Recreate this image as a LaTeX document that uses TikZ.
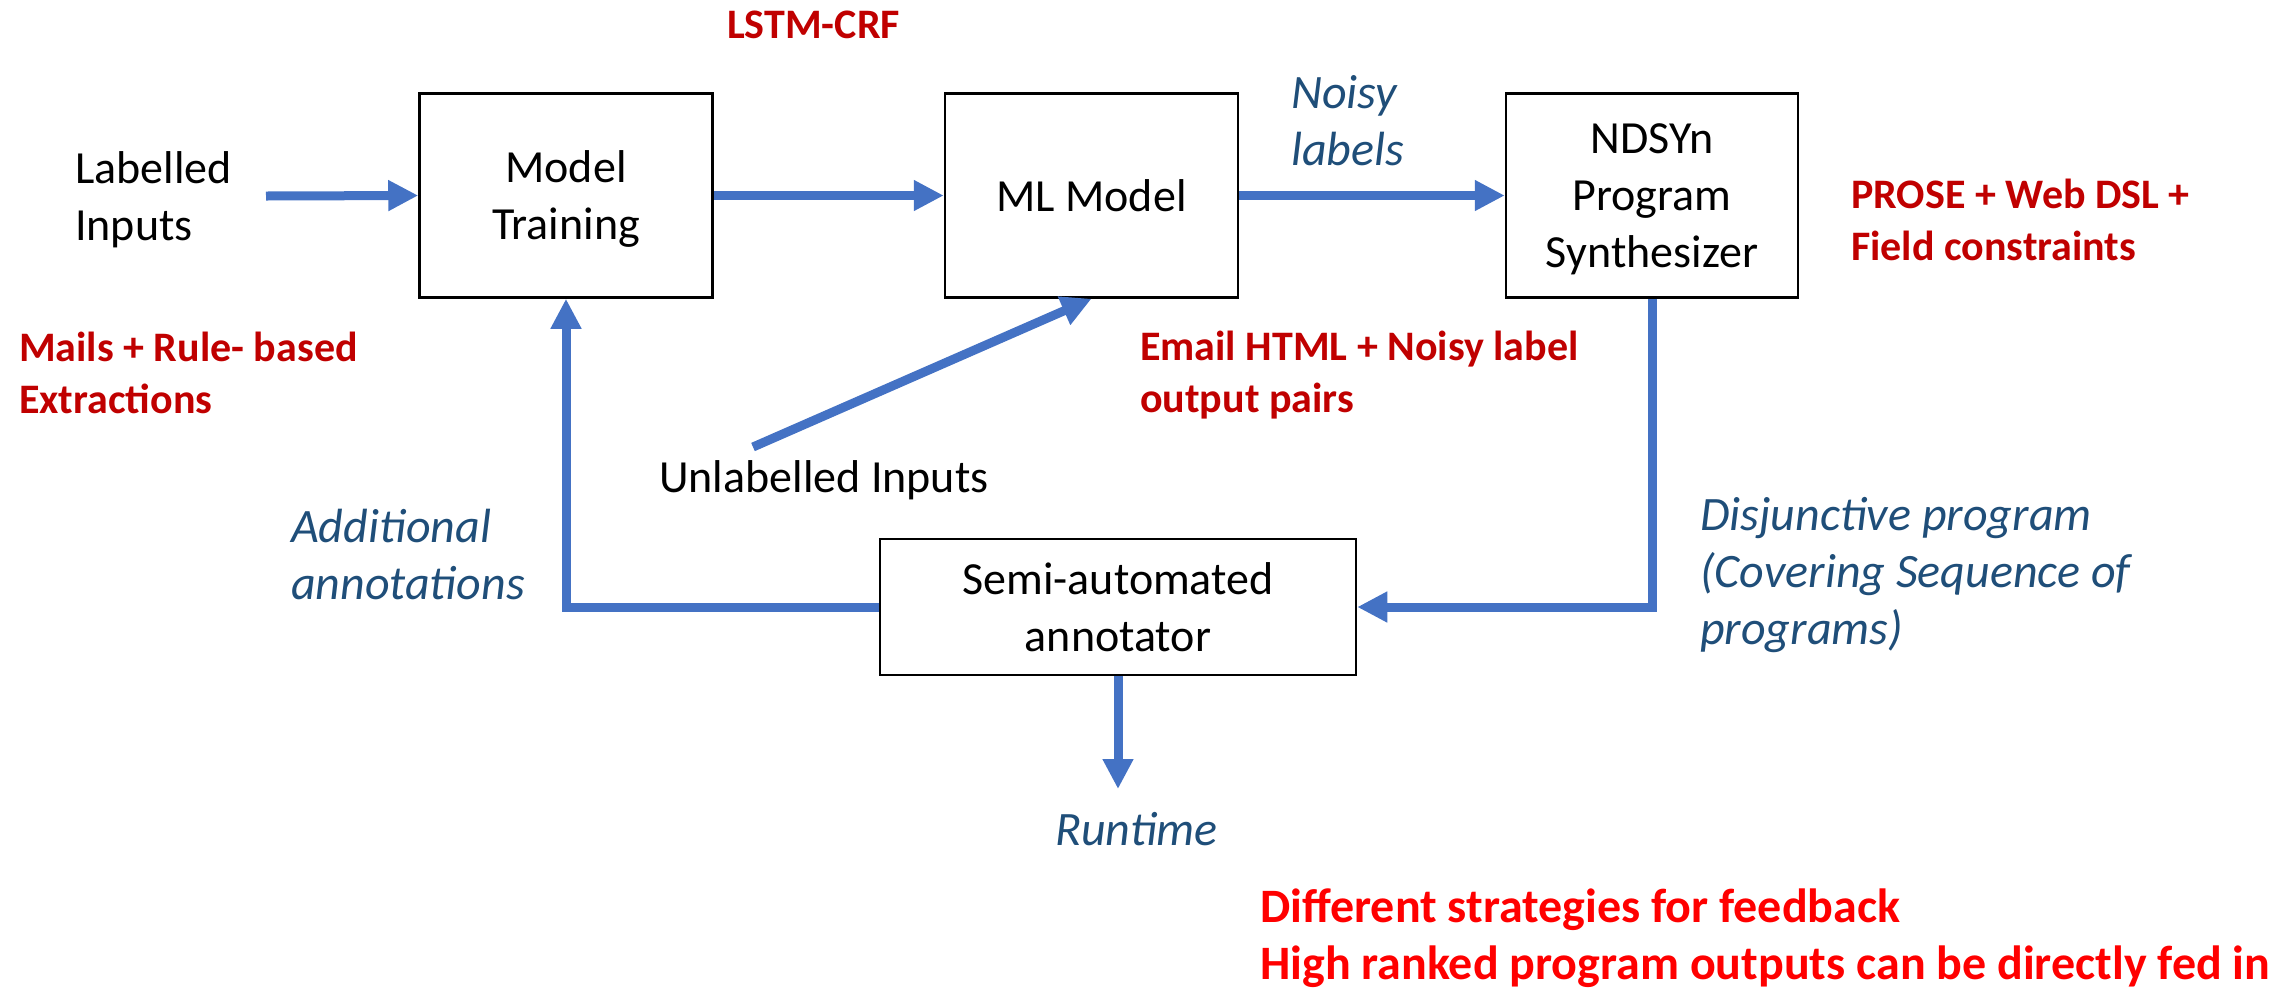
\documentclass[tikz,border=0pt]{standalone}
\usepackage{fontspec}
\setmainfont{Carlito}
\usetikzlibrary{arrows.meta}
\definecolor{flowblue}{HTML}{4472C4}
\definecolor{notered}{HTML}{C00000}
\definecolor{notebright}{HTML}{FF0000}
\definecolor{noteblue}{HTML}{1F4E79}
\newcommand\txtmain{\fontsize{46}{57}\selectfont}
\newcommand\txtnote{\fontsize{48}{57}\selectfont\itshape}
\newcommand\txtred{\fontsize{42}{52}\selectfont\bfseries}
\newcommand\txtalert{\fontsize{48}{57}\selectfont\bfseries}
\begin{document}
\begin{tikzpicture}[x=1pt, y=-1pt,
  box/.style={draw=black, line width=2.5pt, minimum width=293pt, minimum height=204pt,
    inner sep=0pt, align=center, text depth=0pt, font=\txtmain},
  flow/.style={draw=flowblue, line width=9pt, line join=miter,
    -{Triangle[length=30pt,width=29pt]}},
  plain/.style={inner sep=0pt, anchor=base west, align=left, font=\txtmain, text=black},
  note/.style={inner sep=0pt, anchor=base west, align=left, font=\txtnote, text=noteblue},
  redtag/.style={inner sep=0pt, anchor=base west, align=left, font=\txtred, text=notered},
  alert/.style={inner sep=0pt, anchor=base west, align=left, font=\txtalert, text=notebright}]
\useasboundingbox (0,0) rectangle (2292,989);

% processing blocks
\node[box] (mt) at (566,195.5) {Model\\Training};
\node[box] (ml) at (1091.5,195.5) {ML Model};
\node[box, minimum width=292pt] (nd) at (1652,195.5) {NDSYn\\Program\\Synthesizer};
\node[box, minimum width=476pt, minimum height=136pt] (semi) at (1118,607) {Semi-automated\\annotator};

% inputs and outputs (multi-line labels are placed by the baseline of their last line)
\node[plain] (lab) at (75,240) {Labelled\\Inputs};
\node[plain] (unlab) at (659,492) {Unlabelled Inputs};
\node[note] (rt) at (1055,845) {Runtime};

% edge annotations
\node[note] (noisy) at (1291,165) {Noisy\\labels};
\node[note] (addl) at (291,599) {Additional\\annotations};
\node[note] (disj) at (1700,644) {Disjunctive program\\(Covering Sequence of\\programs)};

% implementation notes
\node[redtag] (lstm) at (727,38) {LSTM-CRF};
\node[redtag] (mails) at (19,413) {Mails + Rule- based\\Extractions};
\node[redtag] (email) at (1140,412) {Email HTML + Noisy label\\output pairs};
\node[redtag] (prose) at (1851,260) {PROSE + Web DSL +\\Field constraints};
\node[alert] (strat) at (1260,979) {Different strategies for feedback\\High ranked program outputs can be directly fed in};

% free ends of connectors
\coordinate (labtail) at (266,196);
\coordinate (unlabtail) at (753,447);
\coordinate (rthead) at (1118,789);

% data flow
\draw[flow] (labtail) -- (mt.west);
\draw[flow] (mt.east) -- (ml.west);
\draw[flow] (ml.east) -- (nd.west);
\draw[flow] (unlabtail) -- (ml.south);
\draw[flow] (nd.south) |- (semi.east);
\draw[flow] (semi.west) -| (mt.south);
\draw[flow] (semi.south) -- (rthead);
\end{tikzpicture}
\end{document}
